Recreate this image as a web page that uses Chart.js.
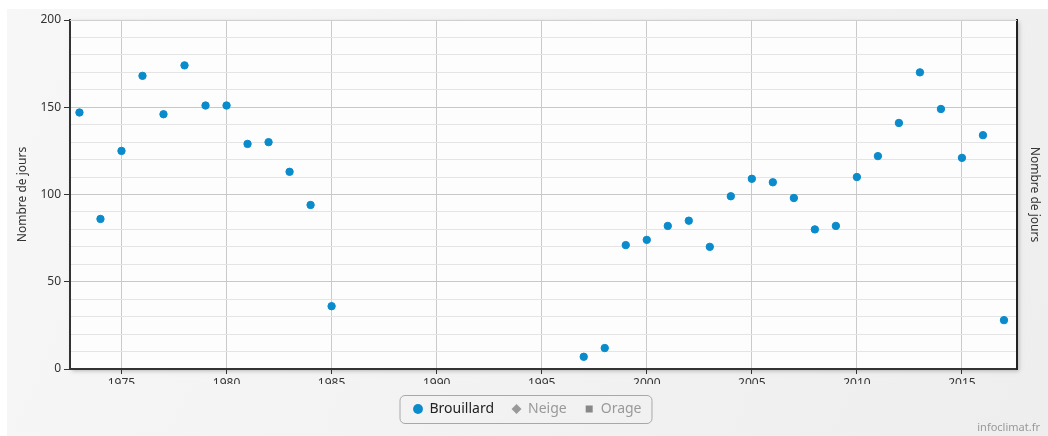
<!DOCTYPE html>
<html lang="fr">
<head>
  <meta charset="UTF-8">
  <title>Brouillard - Nombre de jours</title>
  <script src="https://cdn.jsdelivr.net/npm/chart.js"></script>
  <style>
    body { margin: 0; background: #fff; font-family: 'Noto Sans', sans-serif; }
    .wrap { position: relative; width: 1048px; height: 436px; }
    .credit { position: absolute; right: 8px; bottom: 2px; font-size: 11px; color: #999; }
  </style>
</head>
<body>
  <div class="wrap">
    <canvas id="chart" width="1048" height="436"></canvas>
    <div class="credit">infoclimat.fr</div>
  </div>
  <script>
    const years = [1973, 1974, 1975, 1976, 1977, 1978, 1979, 1980, 1981, 1982, 1983, 1984, 1985,
      1997, 1998, 1999, 2000, 2001, 2002, 2003, 2004, 2005, 2006, 2007, 2008, 2009, 2010,
      2011, 2012, 2013, 2014, 2015, 2016, 2017];
    const brouillard = [147, 86, 125, 168, 146, 174, 151, 151, 129, 130, 113, 94, 36,
      7, 12, 71, 74, 82, 85, 70, 99, 109, 107, 98, 80, 82, 110,
      122, 141, 170, 149, 121, 134, 28];
    const xTicks = [1975, 1980, 1985, 1990, 1995, 2000, 2005, 2010, 2015];
    const legendItems = ['Brouillard', 'Neige', 'Orage'];

    const blue = '#0a8bcb';
    Chart.defaults.font.family = "'Noto Sans', sans-serif";
    Chart.defaults.color = '#333';

    const background = {
      id: 'background',
      beforeDraw(chart) {
        const { ctx, chartArea: a } = chart;
        ctx.save();
        ctx.fillStyle = '#fff';
        ctx.fillRect(0, 0, chart.width, chart.height);
        const g = ctx.createLinearGradient(0, 0, chart.width, chart.height);
        g.addColorStop(0, '#f7f7f7');
        g.addColorStop(1, '#eeeeee');
        ctx.fillStyle = g;
        ctx.fillRect(7, 9, chart.width - 7, chart.height - 9);
        ctx.shadowColor = 'rgba(0,0,0,0.25)';
        ctx.shadowBlur = 4;
        ctx.shadowOffsetX = 2;
        ctx.shadowOffsetY = 2;
        ctx.fillStyle = '#fdfdfd';
        ctx.fillRect(a.left, a.top, a.right - a.left, a.bottom - a.top);
        ctx.restore();
      },
      afterDraw(chart) {
        const { ctx, chartArea: a } = chart;
        ctx.save();
        ctx.strokeStyle = '#d0d0d0';
        ctx.lineWidth = 1;
        ctx.beginPath();
        ctx.moveTo(a.left, a.top + 0.5);
        ctx.lineTo(a.right, a.top + 0.5);
        ctx.stroke();
        // legend frame
        const boxes = chart.legend.legendHitBoxes;
        if (boxes && boxes.length) {
          const l = Math.min(...boxes.map(b => b.left)) - 14;
          const r = Math.max(...boxes.map(b => b.left + b.width)) + 10;
          const t = Math.min(...boxes.map(b => b.top)) - 7;
          const bt = Math.max(...boxes.map(b => b.top + b.height)) + 7;
          ctx.strokeStyle = '#a8a8a8';
          ctx.beginPath();
          ctx.roundRect(l + 0.5, t + 0.5, r - l, bt - t, 5);
          ctx.stroke();
        }
        ctx.restore();
      }
    };

    new Chart(document.getElementById('chart'), {
      type: 'scatter',
      data: {
        datasets: [{
          label: legendItems[0],
          data: years.map((y, i) => ({ x: y, y: brouillard[i] })),
          backgroundColor: blue,
          borderColor: blue,
          pointRadius: 3.7,
          pointHoverRadius: 4
        }]
      },
      options: {
        responsive: false,
        animation: false,
        layout: { padding: { left: 7, right: 0, top: 20, bottom: 10 } },
        scales: {
          x: {
            type: 'linear',
            min: 1972.55,
            max: 2017.62,
            afterBuildTicks: s => { s.ticks = xTicks.map(v => ({ value: v })); },
            afterFit: s => { s.height = 15; },
            ticks: { font: { size: 12 }, color: '#333', padding: 2, callback: v => String(v) },
            grid: { color: '#cacaca', tickColor: '#333', tickLength: 5 },
            border: { color: '#333', width: 2 }
          },
          y: {
            min: 0,
            max: 200,
            afterFit: s => { s.width = 63; },
            ticks: {
              stepSize: 10,
              autoSkip: false,
              font: { size: 12 },
              color: '#333',
              padding: 3,
              callback: v => (v % 50 === 0 ? v : '')
            },
            grid: {
              color: c => (c.tick && c.tick.value % 50 === 0 ? '#c8c8c8' : '#e4e4e4'),
              tickColor: c => (c.tick && c.tick.value % 50 === 0 ? '#333' : 'rgba(0,0,0,0)'),
              tickLength: 6
            },
            border: { color: '#333', width: 2 },
            title: { display: true, text: 'Nombre de jours', font: { size: 12 }, color: '#333', padding: { top: 8, bottom: 4 } }
          },
          y2: {
            position: 'right',
            min: 0,
            max: 200,
            afterFit: s => { s.width = 31; },
            ticks: { display: false },
            grid: { display: false, drawOnChartArea: false },
            border: { color: '#222', width: 2 },
            title: { display: true, text: 'Nombre de jours', font: { size: 12 }, color: '#333', padding: { top: 6, bottom: 0 } }
          }
        },
        plugins: {
          tooltip: { enabled: false },
          legend: {
            position: 'bottom',
            labels: {
              usePointStyle: true,
              boxWidth: 9,
              boxHeight: 7,
              padding: 18,
              font: { size: 14 },
              generateLabels: () => [
                { text: legendItems[0], fillStyle: blue, strokeStyle: blue, lineWidth: 0, pointStyle: 'circle', fontColor: '#222', hidden: false, datasetIndex: 0 },
                { text: legendItems[1], fillStyle: '#999', strokeStyle: '#999', lineWidth: 0, pointStyle: 'rectRot', fontColor: '#999', hidden: false },
                { text: legendItems[2], fillStyle: '#888', strokeStyle: '#888', lineWidth: 0, pointStyle: 'rect', fontColor: '#999', hidden: false }
              ]
            }
          }
        }
      },
      plugins: [background]
    });
  </script>
</body>
</html>
